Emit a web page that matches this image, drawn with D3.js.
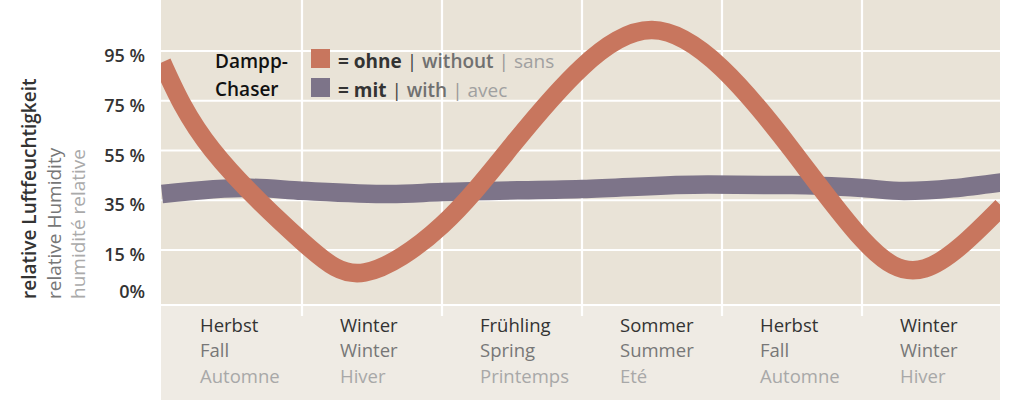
<!DOCTYPE html>
<html>
<head>
<meta charset="utf-8">
<script src="https://cdn.jsdelivr.net/npm/d3@7"></script>
<style>
  body { margin: 0; background: #fff; }
  svg { display: block; font-family: "Open Sans", "Noto Sans", sans-serif; }
</style>
</head>
<body>
<script>
// season columns
var seasonsDE = ["Herbst", "Winter", "Frühling", "Sommer", "Herbst", "Winter"];
var seasonsEN = ["Fall", "Winter", "Spring", "Summer", "Fall", "Winter"];
var seasonsFR = ["Automne", "Hiver", "Printemps", "Eté", "Automne", "Hiver"];

// y ticks (percent)
var yTicks = [95, 75, 55, 35, 15];
var yTickLabels = ["95 %", "75 %", "55 %", "35 %", "15 %"];

// position along the seasons (0 = start of first Herbst) and humidity in %
var ohneX = [0, 0.36, 1.0, 1.45, 2.0, 2.5, 3.0, 3.5, 4.0, 4.5, 5.0, 5.45, 6.0];
var ohneY = [90.5, 55.2, 18.5, 6.0, 25.0, 57.0, 88.5, 103.4, 88.0, 55.2, 19.5, 7.6, 32.5];

var mitX = [0, 0.63, 1.0, 1.63, 2.0, 3.0, 3.9, 4.5, 5.0, 5.3, 6.0];
var mitY = [37.5, 40.0, 38.8, 37.5, 38.3, 39.5, 41.3, 41.1, 39.9, 38.7, 42.2];

var width = 1015, height = 400;
var plotL = 161, plotR = 1000, plotT = 0, plotB = 304;

var x = d3.scaleLinear().domain([0, 6]).range([162, 1002]);
var y = d3.scaleLinear().domain([15, 95]).range([250, 51]);

var orange = "#c8765e", purple = "#7d7489";

var svg = d3.select("body").append("svg")
    .attr("width", width)
    .attr("height", height);

// backgrounds
svg.append("rect")
    .attr("x", plotL).attr("y", plotB + 2)
    .attr("width", plotR - plotL).attr("height", height - plotB - 2)
    .attr("fill", "#efebe4");
svg.append("rect")
    .attr("x", plotL).attr("y", plotT)
    .attr("width", plotR - plotL).attr("height", plotB - plotT)
    .attr("fill", "#e9e3d7");

// grid
svg.selectAll(".hgrid")
    .data(yTicks)
    .enter().append("line")
    .attr("class", "hgrid")
    .attr("x1", plotL).attr("x2", plotR)
    .attr("y1", function (d) { return y(d); })
    .attr("y2", function (d) { return y(d); })
    .attr("stroke", "#fff").attr("stroke-width", 2.2);

svg.selectAll(".vgrid")
    .data(d3.range(1, 6))
    .enter().append("line")
    .attr("class", "vgrid")
    .attr("x1", function (d) { return x(d); })
    .attr("x2", function (d) { return x(d); })
    .attr("y1", plotT).attr("y2", plotB + 12)
    .attr("stroke", "#fff").attr("stroke-width", 2.2);

// clip lines to the plot
svg.append("clipPath").attr("id", "plotclip")
    .append("rect")
    .attr("x", plotL).attr("y", plotT)
    .attr("width", plotR - plotL).attr("height", plotB - plotT);

var line = d3.line()
    .x(function (d) { return x(d[0]); })
    .y(function (d) { return y(d[1]); });

var g = svg.append("g").attr("clip-path", "url(#plotclip)");

g.append("path")
    .datum(d3.zip(mitX, mitY))
    .attr("d", line.curve(d3.curveMonotoneX))
    .attr("fill", "none")
    .attr("stroke", purple)
    .attr("stroke-width", 18.5);

g.append("path")
    .datum(d3.zip(ohneX, ohneY))
    .attr("d", line.curve(d3.curveNatural))
    .attr("fill", "none")
    .attr("stroke", orange)
    .attr("stroke-width", 18.5);

// y tick labels
svg.selectAll(".ytick")
    .data(yTicks)
    .enter().append("text")
    .attr("class", "ytick")
    .attr("x", 145)
    .attr("y", function (d) { return y(d) + 11; })
    .attr("text-anchor", "end")
    .attr("font-size", 18).attr("font-weight", 600)
    .attr("fill", "#333")
    .text(function (d, i) { return yTickLabels[i]; });

svg.append("text")
    .attr("x", 145).attr("y", y(0) + 11)
    .attr("text-anchor", "end")
    .attr("font-size", 18).attr("font-weight", 600)
    .attr("fill", "#333")
    .text("0%");

// y axis title
var titles = [
    { t: "relative Luftfeuchtigkeit", c: "#333", w: 600, x: 36 },
    { t: "relative Humidity", c: "#777", w: 400, x: 61 },
    { t: "humidité relative", c: "#aaa", w: 400, x: 85 }
];
svg.selectAll(".ytitle")
    .data(titles)
    .enter().append("text")
    .attr("class", "ytitle")
    .attr("transform", function (d) { return "translate(" + d.x + ",299) rotate(-90)"; })
    .attr("font-size", 19)
    .attr("font-weight", function (d) { return d.w; })
    .attr("fill", function (d) { return d.c; })
    .text(function (d) { return d.t; });

// season labels
var rows = [
    { names: seasonsDE, c: "#333", w: 500, dy: 332 },
    { names: seasonsEN, c: "#777", w: 500, dy: 357 },
    { names: seasonsFR, c: "#a8a8a8", w: 400, dy: 383 }
];
rows.forEach(function (r) {
    svg.selectAll(null)
        .data(r.names)
        .enter().append("text")
        .attr("x", function (d, i) { return x(i) + 38; })
        .attr("y", r.dy)
        .attr("font-size", 18.5)
        .attr("font-weight", r.w)
        .attr("fill", r.c)
        .text(function (d) { return d; });
});

// legend
svg.append("text").attr("x", 215).attr("y", 68)
    .attr("font-size", 19).attr("font-weight", 600).attr("fill", "#111")
    .text("Dampp-");
svg.append("text").attr("x", 215).attr("y", 96)
    .attr("font-size", 19).attr("font-weight", 600).attr("fill", "#111")
    .text("Chaser");

var legend = [
    { c: orange, parts: ["= ohne", "without", "sans"], y: 49 },
    { c: purple, parts: ["= mit", "with", "avec"], y: 78 }
];
legend.forEach(function (l) {
    svg.append("rect")
        .attr("x", 311).attr("y", l.y)
        .attr("width", 19).attr("height", 19)
        .attr("fill", l.c);
    var t = svg.append("text")
        .attr("x", 338).attr("y", l.y + 19)
        .attr("font-size", 19);
    t.append("tspan").attr("font-weight", 700).attr("fill", "#333").text(l.parts[0] + " ");
    t.append("tspan").attr("font-weight", 400).attr("fill", "#444").text("| ");
    t.append("tspan").attr("font-weight", 600).attr("fill", "#707070").text(l.parts[1] + " ");
    t.append("tspan").attr("font-weight", 400).attr("fill", "#999").text("| ");
    t.append("tspan").attr("font-weight", 400).attr("fill", "#a0a0a0").text(l.parts[2]);
});
</script>
</body>
</html>
